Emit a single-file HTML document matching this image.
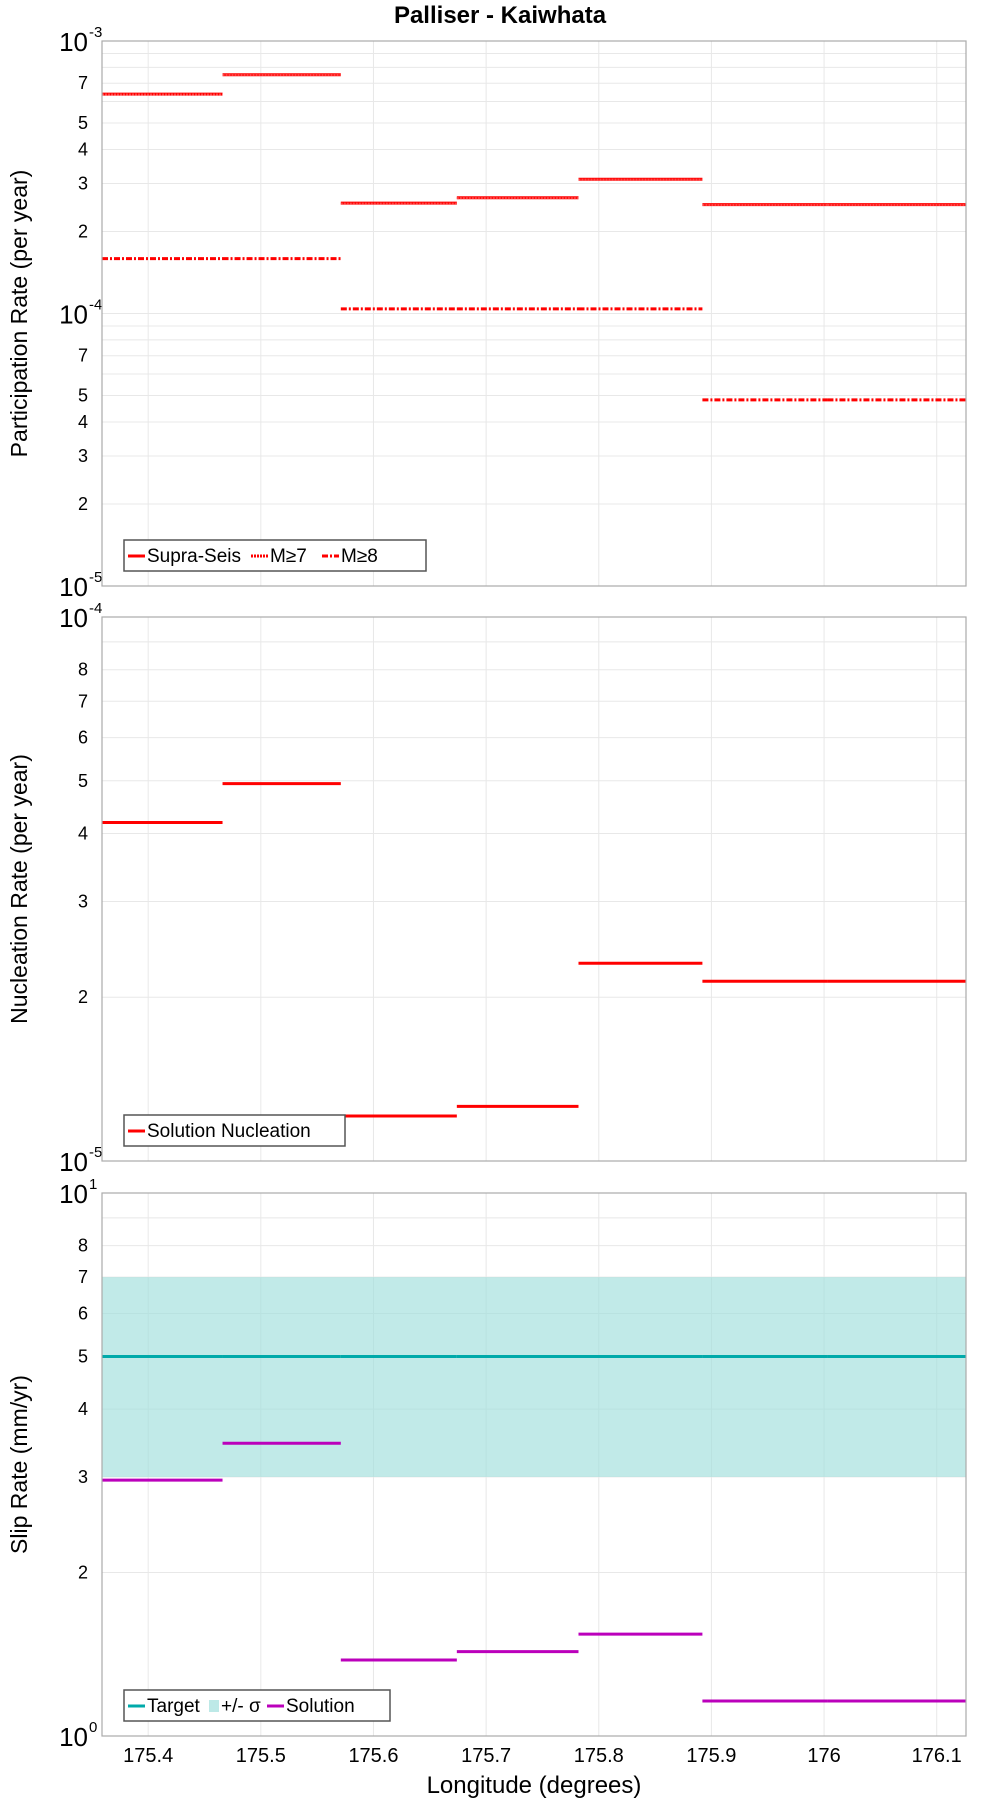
<!DOCTYPE html>
<html><head><meta charset="utf-8"><style>
body{margin:0;background:#fff}
svg{display:block;font-family:"Liberation Sans","DejaVu Sans",sans-serif}
</style></head><body>
<svg id="c" width="1000" height="1800" viewBox="0 0 1000 1800">
<text x="500" y="23" text-anchor="middle" font-weight="bold" font-size="24">Palliser - Kaiwhata</text>
<text x="534" y="1793" text-anchor="middle" font-size="24">Longitude (degrees)</text>
</svg>
<script>
const bounds=[175.359,175.466,175.571,175.674,175.782,175.892,176.003,176.126];
const xTicks=[175.4,175.5,175.6,175.7,175.8,175.9,176,176.1];
const xTickLabels=["175.4","175.5","175.6","175.7","175.8","175.9","176","176.1"];
const supraSeis=[6.38e-4,7.52e-4,2.54e-4,2.66e-4,3.11e-4,2.51e-4,2.51e-4];
const m7=[6.36e-4,7.5e-4,2.53e-4,2.65e-4,3.1e-4,2.5e-4,2.5e-4];
const m8=[1.59e-4,1.59e-4,1.04e-4,1.04e-4,1.04e-4,4.82e-5,4.82e-5];
const nucleation=[4.19e-5,4.94e-5,1.21e-5,1.26e-5,2.31e-5,2.14e-5,2.14e-5];
const slipSolution=[2.96,3.46,1.38,1.43,1.54,1.16,1.16];
const slipTarget=[5,5,5,5,5,5,5];
const slipLow=3, slipHigh=7;

const NS="http://www.w3.org/2000/svg";
const svg=document.getElementById('c');
const L=102,R=966,X0=175.359,X1=176.126;
function xs(v){return L+(v-X0)/(X1-X0)*(R-L);}
function mk(t,a,p){const e=document.createElementNS(NS,t);for(const k in a)e.setAttribute(k,a[k]);(p||svg).appendChild(e);return e;}
function panel(top,bot,e0,e1,labels,ylab,name){
  const g=mk('g',{});
  
  
  const ys=v=>bot-(Math.log10(v)-e0)/(e1-e0)*(bot-top);
  for(let e=e0;e<e1;e++)for(let m=2;m<=9;m++){
    const y=ys(m*Math.pow(10,e));
    const gl=mk('line',{x1:L,x2:R,y1:y,y2:y,stroke:'#e8e8e8','stroke-width':1},g);
    
    
    if(labels.includes(m)){const t=mk('text',{x:L-14,y:y+6,'text-anchor':'end','font-size':18},g);t.textContent=m;
      
      }
  }
  for(let e=e0;e<=e1;e++){
    const y=ys(Math.pow(10,e));
    mk('line',{x1:L,x2:R,y1:y,y2:y,stroke:'#e8e8e8'},g);
    const t=mk('text',{x:L-14,y:y+10,'text-anchor':'end','font-size':26},g);
    t.textContent='10';
    
    
    const s=mk('text',{x:L-13,y:y-4,'text-anchor':'start','font-size':15},g);s.textContent=String(e);
    
    
  }
  xTicks.forEach(v=>{const gl=mk('line',{x1:xs(v),x2:xs(v),y1:top,y2:bot,stroke:'#e8e8e8'},g);
    
    });
  const yl=mk('text',{x:0,y:0,'text-anchor':'middle','font-size':23,transform:`translate(27,${(top+bot)/2}) rotate(-90)`},g);
  yl.textContent=ylab;
  
  
  return {g,ys,top,bot};
}
function frame(p){const r=mk('rect',{x:L,y:p.top,width:R-L,height:p.bot-p.top,fill:'none',stroke:'#aaa','stroke-width':1.2},p.g);
  }
function steps(p,vals,color,dash,name,w){
  vals.forEach((v,i)=>{const y=p.ys(v);
    const l=mk('line',{x1:xs(bounds[i]),x2:xs(bounds[i+1]),y1:y,y2:y,stroke:color,'stroke-width':w||3,'stroke-dasharray':dash||'none'},p.g);
    
    });
}
function legend(x,y,w,items,p,name){
  const lg=mk('g',{},p.g);
  
  
  mk('rect',{x:x,y:y,width:w,height:31,fill:'#fff',stroke:'#555','stroke-width':1.5},lg);
  let cx=x+4;
  items.forEach(it=>{
    if(it.box){mk('rect',{x:cx,y:y+10,width:10,height:12,fill:it.color},lg);cx+=12;}
    else{mk('line',{x1:cx,x2:cx+17,y1:y+16,y2:y+16,stroke:it.color,'stroke-width':3,'stroke-dasharray':it.dash||'none'},lg);cx+=19;}
    const t=mk('text',{x:cx,y:y+22,'font-size':19},lg);t.textContent=it.label;
    
    
    cx+=it.w;
  });
}
const p1=panel(41,586,-5,-3,[2,3,4,5,7],'Participation Rate (per year)','participation-panel');
steps(p1,m8,'#f00','6,2,2,2','m8');
steps(p1,supraSeis,'#f00',null,'supra-seis');
steps(p1,m7,'#f44','2,1','m7',2);
frame(p1);
legend(124,540,302,[{color:'#f00',label:'Supra-Seis',w:104},{color:'#f00',dash:'2,1',label:'M≥7',w:52},{color:'#f00',dash:'6,2,2,2',label:'M≥8',w:40}],p1,'participation-legend');
const p2=panel(617,1161,-5,-4,[2,3,4,5,6,7,8],'Nucleation Rate (per year)','nucleation-panel');
steps(p2,nucleation,'#f00',null,'nucleation');
frame(p2);
legend(124,1115,221,[{color:'#f00',label:'Solution Nucleation',w:180}],p2,'nucleation-legend');
const p3=panel(1193,1736,0,1,[2,3,4,5,6,7,8],'Slip Rate (mm/yr)','slip-rate-panel');
const band=mk('rect',{x:L,y:p3.ys(slipHigh),width:R-L,height:p3.ys(slipLow)-p3.ys(slipHigh),fill:'#9fdfdc',opacity:0.65},p3.g);


steps(p3,slipTarget,'#0aa',null,'target');
steps(p3,slipSolution,'#b0b',null,'solution');
frame(p3);
legend(124,1690,266,[{color:'#0aa',label:'Target',w:62},{color:'#bde9e7',box:true,label:'+/- σ',w:46},{color:'#b0b',label:'Solution',w:80}],p3,'slip-legend');
xTicks.forEach((v,i)=>{const t=mk('text',{x:xs(v),y:1762,'text-anchor':'middle','font-size':20});t.textContent=xTickLabels[i];
  
  });
</script>
</body></html>
